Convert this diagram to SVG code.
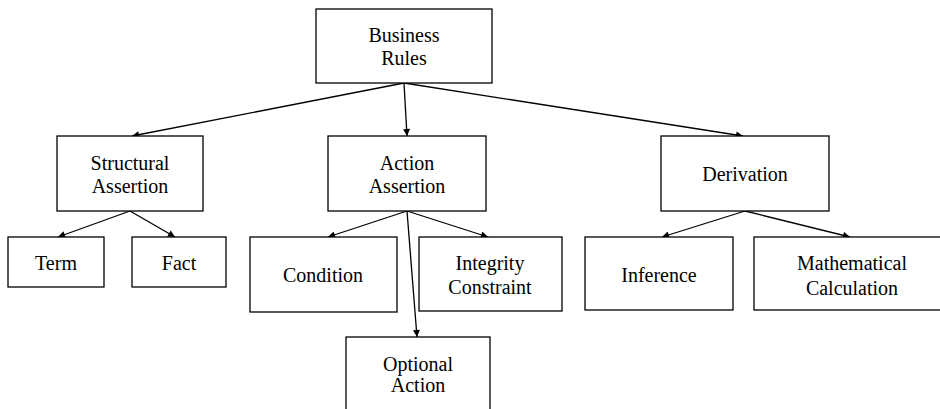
<svg xmlns="http://www.w3.org/2000/svg" width="940" height="409" viewBox="0 0 940 409">
  <defs>
    <marker id="arrow" viewBox="0 0 10 10" refX="10" refY="5" markerWidth="9" markerHeight="7" markerUnits="userSpaceOnUse" orient="auto">
      <path d="M0,0 L10,5 L0,10 z" fill="#000"/>
    </marker>
  </defs>
  <style>
    .box { fill: #fff; stroke: #000; stroke-width: 1.3; }
    .lbl { font-family: "Liberation Serif", "Times New Roman", serif; font-size: 20px; fill: #000; text-anchor: middle; }
    .edge { stroke: #000; stroke-width: 1.3; fill: none; marker-end: url(#arrow); }
  </style>
  <rect width="940" height="409" fill="#fff"/>

  <g id="connectors">
    <line class="edge" x1="404" y1="83" x2="132" y2="136"/>
    <line class="edge" x1="404" y1="83" x2="407" y2="136"/>
    <line class="edge" x1="404" y1="83" x2="743" y2="136"/>
    <line class="edge" x1="130" y1="211" x2="58" y2="237"/>
    <line class="edge" x1="130" y1="211" x2="175" y2="237"/>
    <line class="edge" x1="407" y1="211" x2="328" y2="237"/>
    <line class="edge" x1="407" y1="211" x2="488" y2="237"/>
    <line class="edge" x1="407" y1="211" x2="417" y2="337"/>
    <line class="edge" x1="745" y1="211" x2="662" y2="237"/>
    <line class="edge" x1="745" y1="211" x2="850" y2="237"/>
  </g>

  <g id="business-rules">
    <rect class="box" x="316" y="9" width="176" height="74"/>
    <text class="lbl" x="404" y="42">Business</text>
    <text class="lbl" x="404" y="65">Rules</text>
  </g>

  <g id="structural-assertion">
    <rect class="box" x="57" y="136" width="146" height="75"/>
    <text class="lbl" x="130" y="170">Structural</text>
    <text class="lbl" x="130" y="193">Assertion</text>
  </g>

  <g id="action-assertion">
    <rect class="box" x="328" y="136" width="158" height="75"/>
    <text class="lbl" x="407" y="170">Action</text>
    <text class="lbl" x="407" y="193">Assertion</text>
  </g>

  <g id="derivation">
    <rect class="box" x="661" y="136" width="168" height="75"/>
    <text class="lbl" x="745" y="181">Derivation</text>
  </g>

  <g id="term">
    <rect class="box" x="8" y="237" width="96" height="50"/>
    <text class="lbl" x="56" y="270">Term</text>
  </g>

  <g id="fact">
    <rect class="box" x="132" y="237" width="94" height="50"/>
    <text class="lbl" x="179" y="270">Fact</text>
  </g>

  <g id="condition">
    <rect class="box" x="250" y="237" width="147" height="75"/>
    <text class="lbl" x="323" y="282">Condition</text>
  </g>

  <g id="integrity-constraint">
    <rect class="box" x="419" y="237" width="143" height="74"/>
    <text class="lbl" x="490" y="270">Integrity</text>
    <text class="lbl" x="490" y="294">Constraint</text>
  </g>

  <g id="optional-action">
    <rect class="box" x="346" y="337" width="144" height="90"/>
    <text class="lbl" x="418" y="371">Optional</text>
    <text class="lbl" x="418" y="392">Action</text>
  </g>

  <g id="inference">
    <rect class="box" x="585" y="237" width="148" height="73"/>
    <text class="lbl" x="659" y="282">Inference</text>
  </g>

  <g id="mathematical-calculation">
    <rect class="box" x="754" y="237" width="196" height="73"/>
    <text class="lbl" x="852" y="270">Mathematical</text>
    <text class="lbl" x="852" y="295">Calculation</text>
  </g>
</svg>
